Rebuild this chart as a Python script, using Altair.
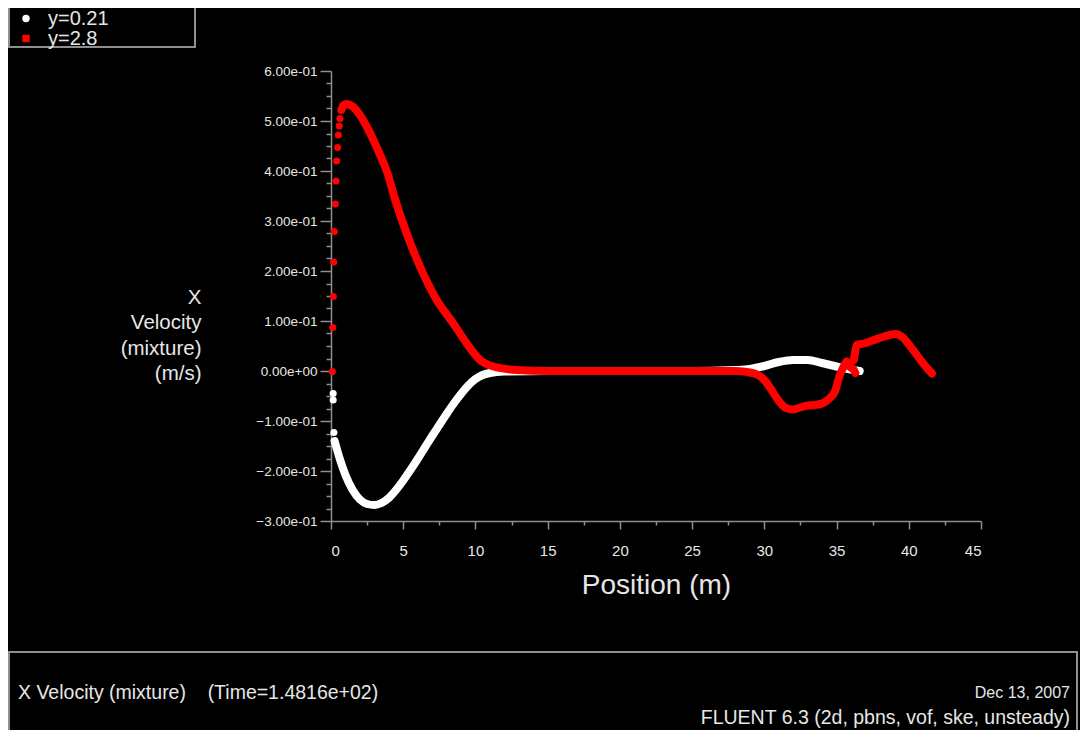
import altair as alt
import pandas as pd

# ---------------- data ----------------
SERIES = ["y=0.21", "y=2.8"]
COLORS = ["#ffffff", "#ff0000"]

# y=0.21 (white): isolated points near the inlet
white_dot_x = [0.15, 0.15, 0.20]
white_dot_v = [-0.045, -0.058, -0.123]
# y=0.21 dense run
white_x = [0.25, 0.6, 1.0, 1.5, 2.0, 2.5, 3.0, 3.5, 4.0, 4.5, 5.0, 5.5, 6.0, 6.5,
           7.0, 7.5, 8.0, 8.5, 9.0, 9.5, 10.0, 10.5, 11.0, 12.0, 15.0, 20.0, 25.0,
           28.0, 29.0, 30.0, 31.0, 32.0, 33.0, 34.0, 35.0, 36.0, 36.6]
white_v = [-0.140, -0.175, -0.208, -0.238, -0.257, -0.266, -0.268, -0.264, -0.254,
           -0.238, -0.219, -0.198, -0.176, -0.153, -0.130, -0.108, -0.086, -0.065,
           -0.046, -0.029, -0.016, -0.008, -0.004, -0.001, 0.0, 0.0, 0.0,
           0.002, 0.004, 0.010, 0.018, 0.022, 0.022, 0.016, 0.009, 0.003, 0.0]

# y=2.8 (red): isolated points near the inlet
red_dot_x = [0.09, 0.12, 0.16, 0.19, 0.23, 0.30, 0.35, 0.39, 0.46, 0.51, 0.57, 0.62]
red_dot_v = [-0.001, 0.087, 0.149, 0.218, 0.279, 0.334, 0.380, 0.420, 0.447, 0.472,
             0.490, 0.505]
# y=2.8 dense run 1
red_x = [0.72, 0.85, 1.05, 1.5, 2.0, 2.47, 3.0, 3.4, 3.86, 4.45, 5.24, 6.16, 7.32,
         8.47, 9.4, 10.32, 11.24, 12.86, 15.0, 20.0, 25.0, 28.0, 29.0, 29.5, 30.0,
         30.5, 31.0, 31.5, 32.0, 32.5, 33.0, 33.5, 34.0, 34.5, 34.9, 35.2, 35.5,
         35.7, 35.95, 36.2, 36.3]
red_v = [0.522, 0.531, 0.534, 0.529, 0.512, 0.489, 0.458, 0.432, 0.400, 0.342,
         0.275, 0.209, 0.142, 0.095, 0.055, 0.022, 0.009, 0.002, 0.0, 0.0, 0.0,
         0.0, -0.003, -0.007, -0.018, -0.038, -0.060, -0.074, -0.077, -0.073,
         -0.069, -0.068, -0.065, -0.055, -0.040, -0.010, 0.009, 0.019, 0.008,
         0.002, -0.004]
# y=2.8 dense run 2
red2_x = [36.2, 36.3, 36.4, 36.9, 37.6, 38.3, 39.1, 39.5, 40.3, 41.0, 41.6]
red2_v = [0.022, 0.040, 0.052, 0.055, 0.062, 0.069, 0.074, 0.069, 0.042, 0.015, -0.005]

x_major = [0, 5, 10, 15, 20, 25, 30, 35, 40, 45]
x_minor = [2.5, 7.5, 12.5, 17.5, 22.5, 27.5, 32.5, 37.5, 42.5]
y_major = [-0.3, -0.2, -0.1, 0.0, 0.1, 0.2, 0.3, 0.4, 0.5, 0.6]
y_minor = [round(a + k * 0.025, 3) for a in y_major[:-1] for k in (1, 2, 3)]

# ---------------- table ----------------
rows = []
seg = 0
for xs, vs, s in [(white_dot_x, white_dot_v, SERIES[0]), (red_dot_x, red_dot_v, SERIES[1])]:
    for a, b in zip(xs, vs):
        seg += 1
        rows.append(dict(x=a, v=b, series=s, kind="dot", seg=seg))
for xs, vs, s in [(white_x, white_v, SERIES[0]), (red_x, red_v, SERIES[1]),
                  (red2_x, red2_v, SERIES[1])]:
    seg += 1
    for a, b in zip(xs, vs):
        rows.append(dict(x=a, v=b, series=s, kind="curve", seg=seg))
df = pd.DataFrame(rows)

FONT = "Liberation Sans"
AXIS_GRAY = "#8f8f8f"
TEXT = "#e6e6e6"

color_scale = alt.Scale(domain=SERIES, range=COLORS)

y_expr_major = "abs(datum.value*10 - round(datum.value*10)) < 1e-6"
x_axis = alt.Axis(
    values=sorted(x_major + x_minor), title="Position (m)", grid=False,
    labelExpr="datum.value % 5 == 0 ? datum.label : ''",
    tickSize={"condition": {"test": "datum.value % 5 == 0", "value": 8}, "value": 4},
    labelPadding=14, labelFontSize=15, labelFont=FONT, labelColor=TEXT,
    titleFontSize=28, titleFont=FONT, titleColor=TEXT, titleFontWeight="normal",
    titleY=64, titleBaseline="middle",
    domainColor=AXIS_GRAY, tickColor=AXIS_GRAY, domainWidth=1.5, tickWidth=1.5,
)
y_axis = alt.Axis(
    values=sorted(y_major + y_minor),
    title=["X", "Velocity", "(mixture)", "(m/s)"], grid=False,
    labelExpr=f"{y_expr_major} ? replace(replace(format(datum.value, '.2e'), 'e-', 'e-0'), 'e+', 'e+0') : ''",
    tickSize={"condition": {"test": y_expr_major, "value": 11}, "value": 5},
    labelPadding=3, labelFontSize=13.5, labelFont=FONT, labelColor=TEXT,
    titleFontSize=20.5, titleFont=FONT, titleColor=TEXT, titleFontWeight="normal",
    titleAngle=0, titleAlign="right", titleBaseline="top", titleX=-130, titleY=216,
    titleLineHeight=25.5,
    domainColor=AXIS_GRAY, tickColor=AXIS_GRAY, domainWidth=1.5, tickWidth=1.5,
)

X = alt.X("x:Q", scale=alt.Scale(domain=[0, 45], nice=False, zero=False), axis=x_axis)
Y = alt.Y("v:Q", scale=alt.Scale(domain=[-0.3, 0.6], nice=False, zero=False), axis=y_axis)
C = alt.Color("series:N", scale=color_scale, legend=None)

base = alt.Chart(df)

# tiny filled points underneath the data; they only carry the legend (circle / square)
legend_layer = base.mark_point(filled=True, size=3, opacity=1).encode(
    x=X, y=Y,
    color=alt.Color("series:N", scale=color_scale, legend=alt.Legend(
        orient="none", legendX=-323, legendY=-62.5, title=None, direction="vertical",
        strokeColor="transparent", padding=0, rowPadding=0,
        labelFontSize=20, labelFont=FONT, labelColor=TEXT, labelLimit=400,
        symbolSize=55, symbolStrokeWidth=0, symbolOffset=8, labelOffset=12,
        symbolOpacity=1,
    )),
    shape=alt.Shape("series:N", scale=alt.Scale(domain=SERIES, range=["circle", "square"])),
)

layers = []
for s in SERIES:
    sub = base.transform_filter(alt.datum.series == s)
    layers.append(
        sub.transform_filter(alt.datum.kind == "curve")
        .mark_line(strokeWidth=8, strokeCap="round", strokeJoin="round", interpolate="monotone")
        .encode(x=X, y=Y, color=C, detail="seg:N")
    )
    layers.append(sub.mark_circle(size=50, opacity=1).encode(x=X, y=Y, color=C))

one = alt.Data(values=[{}])
legend_box = alt.Chart(one).mark_rect(fillOpacity=0, stroke=AXIS_GRAY, strokeWidth=2).encode(
    x=alt.value(-322), x2=alt.value(-136), y=alt.value(-75), y2=alt.value(-24)
)
panel = alt.Chart(one).mark_rect(fillOpacity=0, stroke=AXIS_GRAY, strokeWidth=2).encode(
    x=alt.value(-322), x2=alt.value(746), y=alt.value(581), y2=alt.value(720)
)
left_txt = alt.Chart(one).mark_text(
    align="left", baseline="middle", fontSize=19.5, font=FONT, color=TEXT,
    text="X Velocity (mixture)\u00a0\u00a0\u00a0 (Time=1.4816e+02)",
).encode(x=alt.value(-313), y=alt.value(622))
date_txt = alt.Chart(one).mark_text(
    align="right", baseline="middle", fontSize=16, font=FONT, color=TEXT,
    text="Dec 13, 2007",
).encode(x=alt.value(739), y=alt.value(622))
ver_txt = alt.Chart(one).mark_text(
    align="right", baseline="middle", fontSize=19.5, font=FONT, color=TEXT,
    text="FLUENT 6.3 (2d, pbns, vof, ske, unsteady)",
).encode(x=alt.value(739), y=alt.value(647))

chart = alt.layer(legend_layer, *layers, legend_box, panel, left_txt, date_txt, ver_txt).properties(
    width=650, height=450,
    autosize=alt.AutoSizeParams(type="none"),
    padding={"left": 323, "top": 63, "right": 99, "bottom": 209},
    background="black",
).configure_view(stroke=None)

chart.save("out.html", embed_options={"renderer": "svg", "actions": False})
